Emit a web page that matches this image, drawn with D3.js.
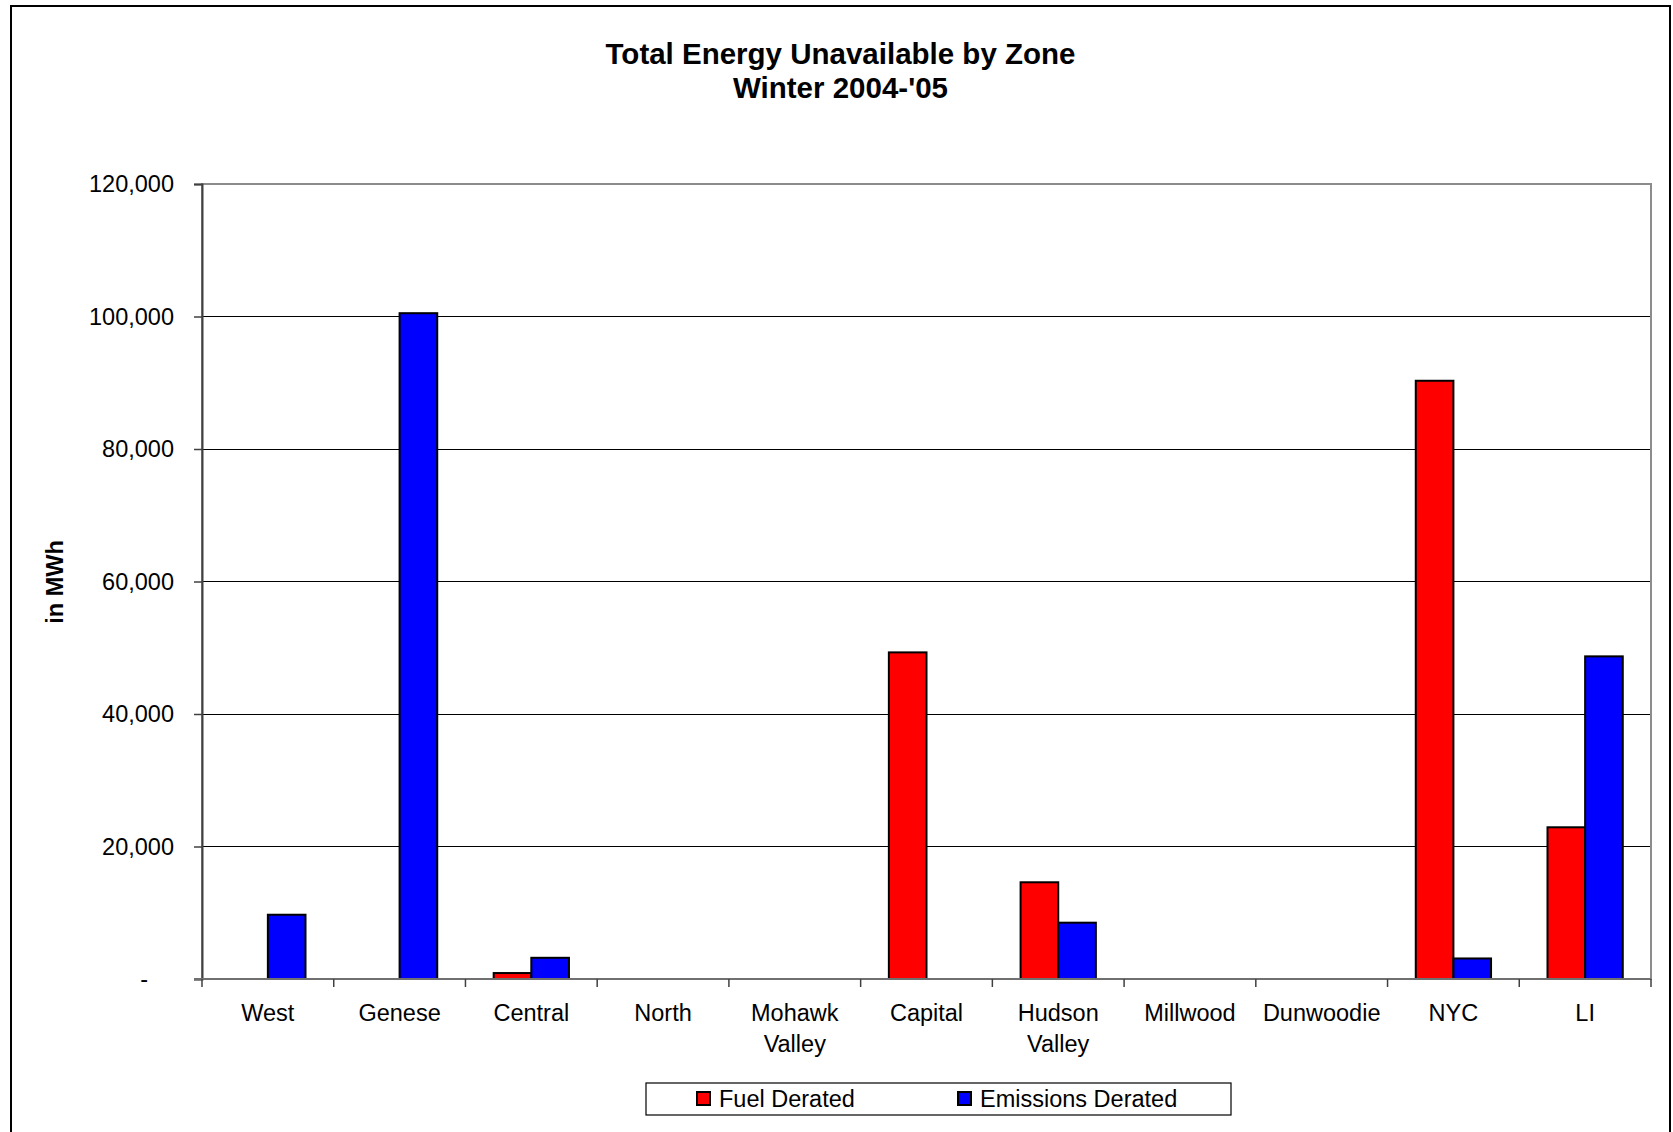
<!DOCTYPE html>
<html>
<head>
<meta charset="utf-8">
<script src="https://cdn.jsdelivr.net/npm/d3@7/dist/d3.min.js"></script>
<style>
  html, body { margin: 0; padding: 0; background: #fff; }
  svg { display: block; font-family: "Liberation Sans", Arial, sans-serif; }
</style>
</head>
<body>
<svg id="chart" width="1673" height="1132"></svg>
<script>
// Zones (two-line names are split on "\n")
const zones = ["West", "Genese", "Central", "North", "Mohawk\nValley", "Capital",
               "Hudson\nValley", "Millwood", "Dunwoodie", "NYC", "LI"];
const seriesNames = ["Fuel Derated", "Emissions Derated"];
const seriesColors = ["#FF0000", "#0000FF"];

// Energy unavailable, MWh
const fuelDerated      = [0, 0, 900, 0, 0, 49300, 14600, 0, 0, 90300, 22900];
const emissionsDerated = [9700, 100500, 3200, 0, 0, 0, 8500, 0, 0, 3100, 48700];

const yTicks = [0, 20000, 40000, 60000, 80000, 100000, 120000];
const yTickLabels = ["-", "20,000", "40,000", "60,000", "80,000", "100,000", "120,000"];

const titleLines = ["Total Energy Unavailable by Zone", "Winter 2004-'05"];
const yAxisTitle = "in MWh";

const svg = d3.select("#chart");
const plot = { left: 202, right: 1651, top: 184, bottom: 979 };
const FONT = 23.5;

// outer chart frame
svg.append("rect")
  .attr("x", 11).attr("y", 6).attr("width", 1659).attr("height", 1130)
  .attr("fill", "#fff").attr("stroke", "#000").attr("stroke-width", 2);

// title
svg.append("g").selectAll("text").data(titleLines).join("text")
  .attr("x", 840.5).attr("y", (d, i) => 63.5 + i * 34)
  .attr("text-anchor", "middle").attr("font-weight", "bold")
  .attr("font-size", 29.5).attr("fill", "#000").text(d => d);

const x = d3.scaleBand().domain(zones).range([plot.left, plot.right]).paddingInner(0).paddingOuter(0);
const y = d3.scaleLinear().domain([0, 120000]).range([plot.bottom, plot.top]);

// gridlines
svg.append("g").selectAll("line").data(yTicks.filter(t => t > 0 && t < 120000)).join("line")
  .attr("x1", plot.left).attr("x2", plot.right)
  .attr("y1", d => y(d)).attr("y2", d => y(d))
  .attr("stroke", "#000").attr("stroke-width", 1).attr("shape-rendering", "crispEdges");

// plot area border
svg.append("rect")
  .attr("x", plot.left).attr("y", plot.top)
  .attr("width", plot.right - plot.left).attr("height", plot.bottom - plot.top)
  .attr("fill", "none").attr("stroke", "#8c8c8c").attr("stroke-width", 2);

// bars: two series per zone, centred on the category middle
const barW = x.bandwidth() / 3.5;
const rows = zones.map((z, i) => ({ zone: z, values: [fuelDerated[i], emissionsDerated[i]] }));
const inner = d3.scaleBand().domain(seriesNames).range([0, 2 * barW]);

const groups = svg.append("g").selectAll("g").data(rows).join("g")
  .attr("transform", d => `translate(${x(d.zone) + x.bandwidth() / 2 - barW},0)`);
groups.selectAll("rect")
  .data(d => d.values.map((v, k) => ({ v, k })).filter(e => e.v > 0))
  .join("rect")
  .attr("x", e => inner(seriesNames[e.k]))
  .attr("width", inner.bandwidth())
  .attr("y", e => y(e.v))
  .attr("height", e => y(0) - y(e.v))
  .attr("fill", e => seriesColors[e.k])
  .attr("stroke", "#000").attr("stroke-width", 2);

// y axis
const yAxis = d3.axisLeft(y).tickValues(yTicks)
  .tickFormat((d, i) => yTickLabels[i]).tickSize(8).tickPadding(20);
const gy = svg.append("g").attr("transform", `translate(${plot.left},0)`).call(yAxis);
gy.select(".domain").attr("stroke", "#404040").attr("stroke-width", 2);
gy.selectAll(".tick line").attr("stroke", "#404040").attr("stroke-width", 1.5);
gy.selectAll(".tick text").attr("font-size", FONT).attr("fill", "#000")
  .attr("font-family", "Liberation Sans, Arial, sans-serif")
  .attr("dx", d => d === 0 ? -26 : 0);

// x axis: ticks at category boundaries
const gx = svg.append("g").attr("transform", `translate(0,${plot.bottom})`);
gx.append("line").attr("x1", plot.left - 8).attr("x2", plot.right)
  .attr("stroke", "#707070").attr("stroke-width", 2);
const bounds = zones.map(z => x(z)).concat([plot.right]);
gx.selectAll("line.tk").data(bounds).join("line").attr("class", "tk")
  .attr("x1", d => d).attr("x2", d => d).attr("y1", 0).attr("y2", 8)
  .attr("stroke", "#404040").attr("stroke-width", 1.5);
gx.selectAll("text").data(zones).join("text")
  .attr("x", d => x(d) + x.bandwidth() / 2)
  .attr("text-anchor", "middle").attr("font-size", FONT).attr("fill", "#000")
  .each(function (d) {
    d.split("\n").forEach((line, i) => {
      d3.select(this).append("tspan")
        .attr("x", x(d) + x.bandwidth() / 2).attr("y", 42 + i * 30.5).text(line);
    });
  });

// y axis title
svg.append("text")
  .attr("transform", "translate(63,582) rotate(-90)")
  .attr("text-anchor", "middle").attr("font-weight", "bold")
  .attr("font-size", FONT).attr("fill", "#000").text(yAxisTitle);

// legend
const legend = svg.append("g");
legend.append("rect").attr("x", 646).attr("y", 1083).attr("width", 585).attr("height", 32)
  .attr("fill", "#fff").attr("stroke", "#000").attr("stroke-width", 1.2);
const legendX = [697, 958];
const items = legend.selectAll("g").data(seriesNames).join("g")
  .attr("transform", (d, i) => `translate(${legendX[i]},1092)`);
items.append("rect").attr("width", 13).attr("height", 13)
  .attr("fill", (d, i) => seriesColors[i]).attr("stroke", "#000").attr("stroke-width", 2);
items.append("text").attr("x", 22).attr("y", 14.7)
  .attr("font-size", FONT).attr("fill", "#000").text(d => d);
</script>
</body>
</html>
